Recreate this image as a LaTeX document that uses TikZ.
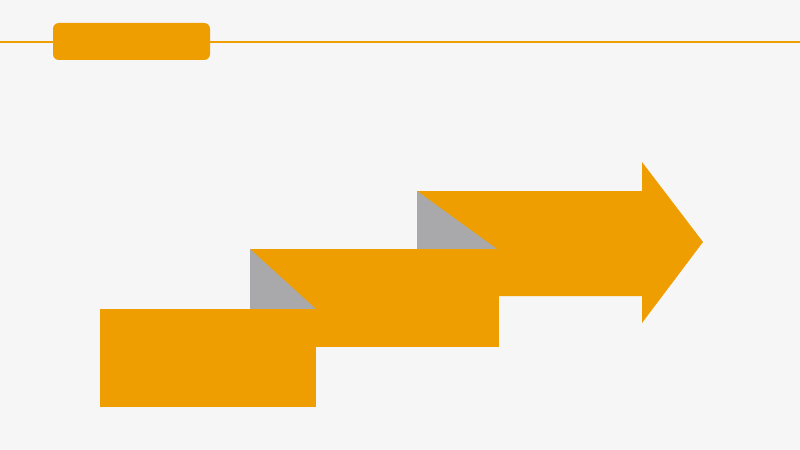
\documentclass[tikz,border=0pt]{standalone}
\usepackage{tikz}
\definecolor{bgray}{HTML}{F6F6F6}
\definecolor{stepor}{HTML}{EE9E00}
\definecolor{foldgray}{HTML}{A9A9AB}

\begin{document}
\begin{tikzpicture}[x=0.03cm,y=-0.03cm]
    \fill[bgray] (0,0) rectangle (800,450);
    \useasboundingbox (0,0) rectangle (800,450);
    \draw[stepor,line width=1.2pt] (0,42) -- (800,42);
    \fill[stepor,rounded corners=5pt] (53,23) rectangle (210,60);
    \fill[stepor] (417,191) -- (642,191) -- (642,162) -- (703,242) -- (642,323) -- (642,296) -- (417,296) -- cycle;
    \fill[foldgray] (417,191) -- (497,249) -- (417,249) -- cycle;
    \fill[stepor] (250,249) rectangle (499,347);
    \fill[foldgray] (250,249) -- (316,309) -- (250,309) -- cycle;
    \fill[stepor] (100,309) rectangle (316,407);
  \end{tikzpicture}
\end{document}
